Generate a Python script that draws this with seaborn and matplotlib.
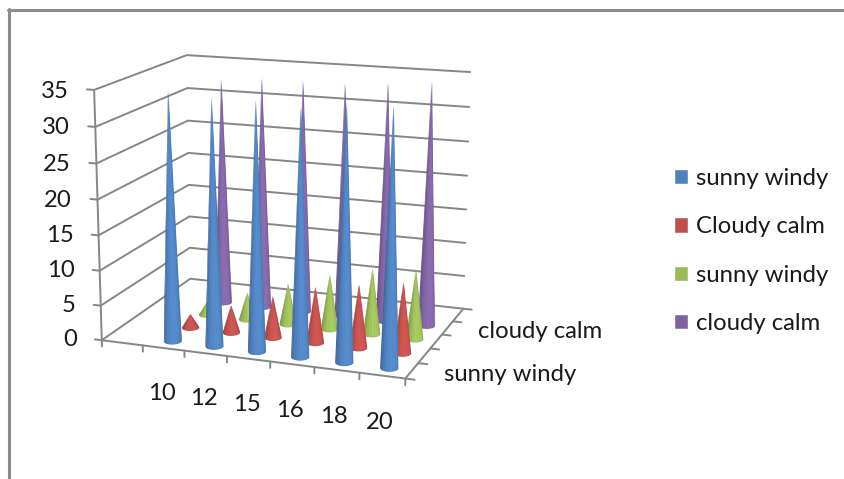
import numpy as np
import seaborn as sns
from matplotlib import pyplot as plt
from matplotlib.colors import to_rgb
from matplotlib.lines import Line2D
from matplotlib.patches import Patch
from mpl_toolkits.mplot3d import proj3d
from mpl_toolkits.mplot3d.art3d import Poly3DCollection

categories = ['', '10', '12', '15', '16', '18', '20']
depth_labels = ['sunny windy', '', '', 'cloudy calm', '']
z_ticks = [0, 5, 10, 15, 20, 25, 30, 35]
series_names = ['sunny windy', 'Cloudy calm', 'sunny windy', 'cloudy calm']
blue = [35, 34.5, 34.5, 34, 35, 35]
red = [2, 4, 6, 8, 9, 10]
green = [2, 4, 6, 8, 9.5, 10]
purple = [33.5, 34, 34, 34, 34.5, 35]
colors = sns.color_palette(['#4f81bd', '#c0504d', '#9bbb59', '#8064a2'])

sns.set_theme(style='white')
plt.rcParams['font.family'] = ['Lato', 'DejaVu Sans']
text_color = '#1a1a1a'
grid_color = '#868686'
font_size = 17.2

fig = plt.figure(figsize=(8.45, 4.79), dpi=100)
ax = fig.add_axes([0.0712, 0.0972, 0.5248, 0.9258], projection='3d', computed_zorder=False)
ax.set_xlim(0, 7)
ax.set_ylim(0, 5)
ax.set_zlim(0, 35)
ax.set_axis_off()
ax.view_init(elev=14.47, azim=-69.94)
ax.set_proj_type('persp', focal_length=0.671)
ax.set_box_aspect((1.241, 0.876, 1.0))


def label(x, y, z, text, **kw):
    # placed in 2d so the text keeps its real position on the figure
    u, v, _ = proj3d.proj_transform(x, y, z, ax.get_proj())
    ax.text2D(u, v, text, transform=ax.transData, fontsize=font_size, color=text_color, **kw)


def cone(cx, cy, height, color, order):
    # only the half facing the viewer is visible
    az = np.radians(ax.azim)
    theta = np.linspace(az - np.pi / 2 - 0.2, az + np.pi / 2 + 0.2, 11)
    base = np.array(to_rgb(color))
    # one solid polygon underneath, so the seams of the facets do not show white
    rim = np.c_[cx + 0.19 * np.cos(theta), cy + 0.215 * np.sin(theta), np.zeros_like(theta)]
    solid = np.vstack([rim, [cx, cy, height]])
    ax.add_collection3d(Poly3DCollection([solid], facecolors=[base * 0.98], linewidths=0, zorder=order))

    th, tt = np.meshgrid(theta, [0.0, 1.0])
    X = cx + 0.19 * (1 - tt) * np.cos(th)
    Y = cy + 0.215 * (1 - tt) * np.sin(th)
    Z = tt * height
    mix = np.clip(np.cos(th - az - 0.15), 0, 1)[..., None]
    rgb = np.clip(base * (0.76 + 0.34 * mix), 0, 1)
    ax.plot_surface(X, Y, Z, facecolors=np.dstack([rgb, np.ones(th.shape)]), shade=False, rstride=1, cstride=1,
                    linewidth=0, antialiased=True, zorder=order)


line_kw = dict(color=grid_color, lw=1.4, zorder=1)
for z in z_ticks:
    ax.plot([-0.17, 0, 0, 7], [0, 0, 5, 5], [z, z, z, z], **line_kw)
    label(-0.62, 0, z - 0.4, str(z), ha='right', va='center')
ax.plot([0, 0], [0, 0], [0, 35], **line_kw)
ax.plot([0, 7, 7], [0, 0, 5], [0, 0, 0], **line_kw)
for i in range(8):
    ax.plot([i, i], [0, 0], [0, -0.9], **line_kw)
for j in range(6):
    ax.plot([7, 7.2], [j, j], [0, 0], **line_kw)
for i, name in enumerate(categories):
    if name:
        label(i + 0.45, 0, -6.6, name, ha='center', va='center')
for j, name in enumerate(depth_labels):
    if name:
        label(7.7, j + 0.5, 0.0, name, ha='left', va='center')

order = 10
for row, values in reversed(list(enumerate([blue, red, green, purple]))):
    for i, h in enumerate(values):
        cone(i + 1.5, row + 0.5, h, colors[row], order)
        order += 1

handles = [Patch(facecolor=c, label=n) for c, n in zip(colors, series_names)]
fig.legend(handles=handles, loc='center left', bbox_to_anchor=(0.7976, 0.476), frameon=False, fontsize=font_size,
           labelcolor=text_color, handlelength=0.6, handleheight=0.6, handletextpad=0.33, labelspacing=1.14,
           borderpad=0, borderaxespad=0)

fig.add_artist(Line2D([8 / 845, 1], [469 / 479, 469 / 479], color='#8c8c8c', lw=2.2))
fig.add_artist(Line2D([9.5 / 845, 9.5 / 845], [0, 470 / 479], color='#8c8c8c', lw=2.2))
fig.savefig('out.png', dpi=100)
